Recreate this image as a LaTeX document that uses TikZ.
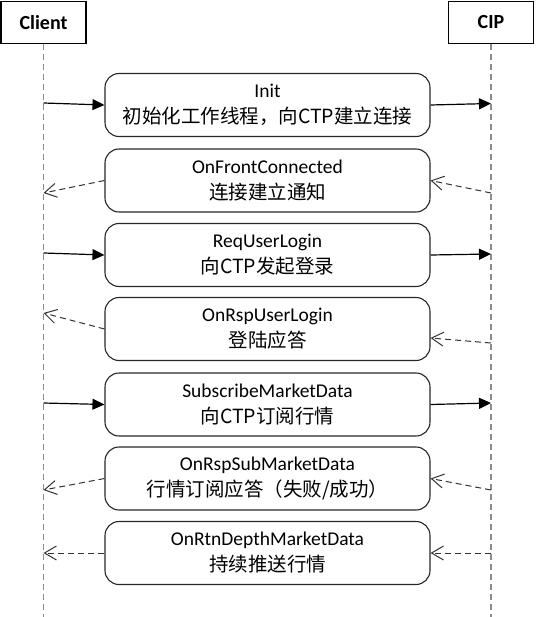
\documentclass[tikz,border=0pt]{standalone}
\usepackage{fontspec}
\setmainfont{Carlito}
\newfontfamily\cjk{Noto Sans CJK SC}
\usetikzlibrary{arrows.meta,calc}
\tikzset{
  actor/.style={draw=black, line width=1.3pt, minimum width=85pt, minimum height=42pt, inner sep=0pt, font=\fontsize{20}{24}\selectfont\bfseries},
  msgbox/.style={draw=black!85, line width=1.1pt, rounded corners=14pt, minimum width=325pt, minimum height=63pt, align=center, inner sep=0pt, font=\fontsize{19.5}{26}\selectfont},
  lifeline/.style={draw=black!45, line width=1.5pt, dash pattern=on 6pt off 4pt},
  call/.style={-{Triangle[length=12pt,width=11pt]}, line width=1.2pt},
  reply/.style={-{Straight Barb[length=12pt,width=14pt]}, line width=1pt, dash pattern=on 6pt off 4pt, draw=black!80}
}

\begin{document}
\begin{tikzpicture}[x=1pt,y=-1pt]
\useasboundingbox (0,0) rectangle (535,617);
% participants
\node[actor] (client) at (43.5,22.5) {Client};
\node[actor] (cip) at (491,22.5) {CIP};
\coordinate (clientend) at (43.5,617);
\coordinate (cipend) at (491,617);
\draw[lifeline] (client.south) -- (clientend);
\draw[lifeline] (cip.south) -- (cipend);
% messages
\node[msgbox] (m1) at (267.5,105) {Init\\{\cjk 初始化工作线程，向CTP建立连接}};
\node[msgbox] (m2) at (267.5,180.5) {OnFrontConnected\\{\cjk 连接建立通知}};
\node[msgbox] (m3) at (267.5,255) {ReqUserLogin\\{\cjk 向CTP发起登录}};
\node[msgbox] (m4) at (267.5,329) {OnRspUserLogin\\{\cjk 登陆应答}};
\node[msgbox] (m5) at (267.5,404.5) {SubscribeMarketData\\{\cjk 向CTP订阅行情}};
\node[msgbox] (m6) at (267.5,478.5) {OnRspSubMarketData\\{\cjk 行情订阅应答（失败/成功）}};
\node[msgbox] (m7) at (267.5,553) {OnRtnDepthMarketData\\{\cjk 持续推送行情}};
% points on the lifelines
\coordinate (c1) at (43.5,103);   \coordinate (p1) at (491,103.5);
\coordinate (c2) at (43.5,193);   \coordinate (p2) at (491,193);
\coordinate (c3) at (43.5,253);   \coordinate (p3) at (491,254);
\coordinate (c4) at (43.5,313);   \coordinate (p4) at (491,343);
\coordinate (c5) at (43.5,403);   \coordinate (p5) at (491,403);
\coordinate (c6) at (43.5,490);   \coordinate (p6) at (491,490);
\coordinate (c7) at (43.5,553);   \coordinate (p7) at (491,553);
% calls
\draw[call] (c1) -- (m1.west);
\draw[call] (m1.east) -- (p1);
\draw[call] (c3) -- (m3.west);
\draw[call] (m3.east) -- (p3);
\draw[call] (c5) -- (m5.west);
\draw[call] (m5.east) -- (p5);
% replies
\draw[reply] (p2) -- (m2.east);
\draw[reply] (m2.west) -- (c2);
\draw[reply] (p4) -- ($(m4.east)+(0,9)$);
\draw[reply] (m4.west) -- (c4);
\draw[reply] (p6) -- (m6.east);
\draw[reply] (m6.west) -- (c6);
\draw[reply] (p7) -- (m7.east);
\draw[reply] (m7.west) -- (c7);
\end{tikzpicture}
\end{document}
